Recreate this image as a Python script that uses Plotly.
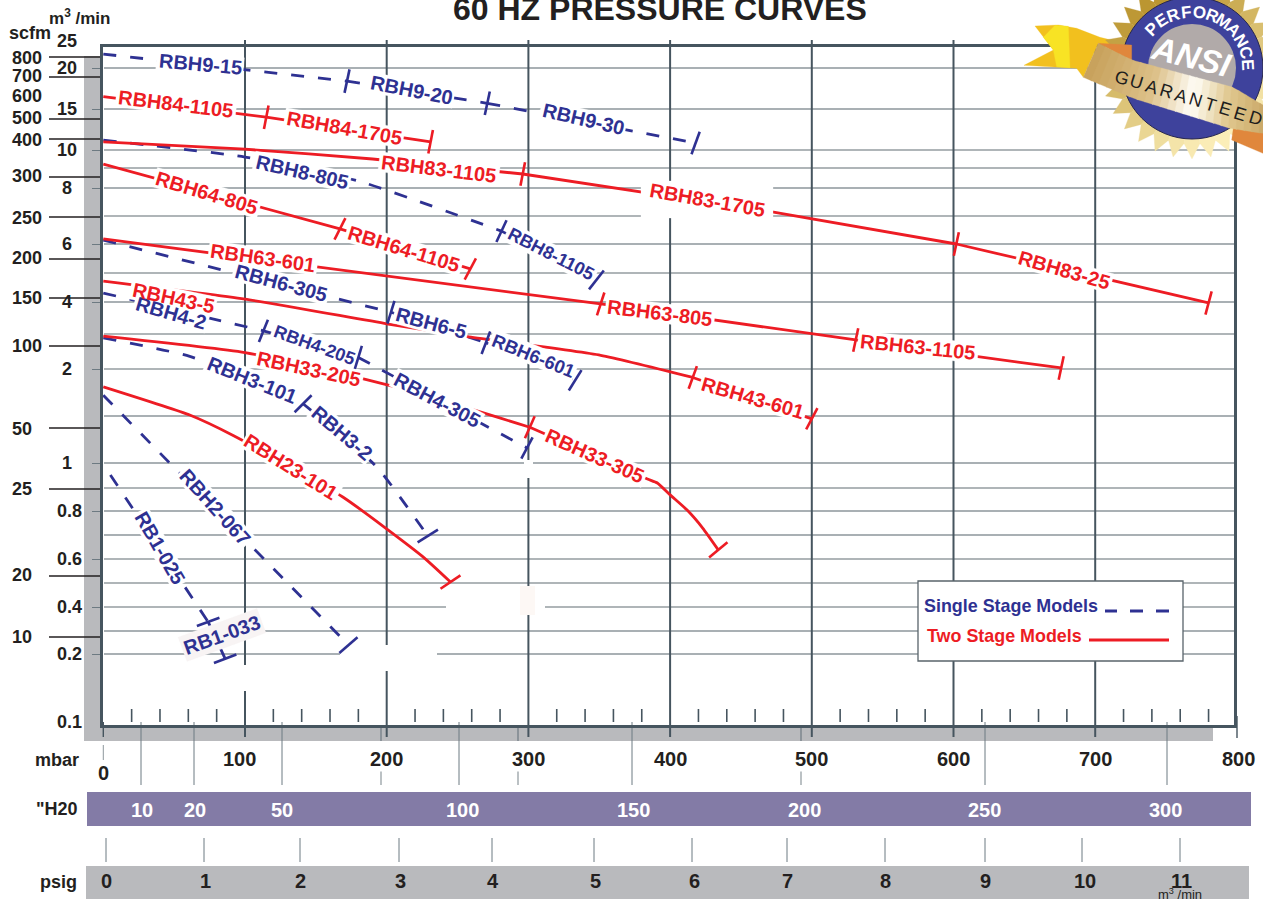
import math
import numpy as np
import plotly.graph_objects as go

# --- Chart values: pressure in mbar, flow in m3/min ---
RBH9_15_X, RBH9_15_Y = [0, 172], [22.9, 18.4]
RBH9_20_X, RBH9_20_Y = [172, 271], [18.4, 15.7]
RBH9_30_X, RBH9_30_Y = [271, 418], [15.7, 10.85]
RBH8_805_X, RBH8_805_Y = [0, 100, 180, 281], [11.2, 9.61, 8.35, 6.46]
RBH8_1105_X, RBH8_1105_Y = [281, 348], [6.46, 4.76]
RBH6_305_X, RBH6_305_Y = [0, 203], [6.14, 3.68]
RBH6_5_X, RBH6_5_Y = [203, 270], [3.68, 2.75]
RBH6_601_X, RBH6_601_Y = [270, 333], [2.75, 1.88]
RBH4_2_X, RBH4_2_Y = [0, 113], [4.31, 3.10]
RBH4_205_X, RBH4_205_Y = [113, 180], [3.10, 2.33]
RBH4_305_X, RBH4_305_Y = [180, 299], [2.33, 1.16]
RBH3_101_X, RBH3_101_Y = [0, 61, 141], [2.89, 2.36, 1.63]
RBH3_2_X, RBH3_2_Y = [141, 193, 229], [1.63, 0.984, 0.696]
RBH2_067_X, RBH2_067_Y = [0, 173], [1.72, 0.239]
RB1_025_X, RB1_025_Y = [5, 74], [0.952, 0.338]
RB1_033_X, RB1_033_Y = [74, 86], [0.338, 0.193]

RBH84_1105_X, RBH84_1105_Y = [0, 115], [16.5, 14.0]
RBH84_1705_X, RBH84_1705_Y = [115, 231], [14.0, 11.0]
RBH83_1105_X, RBH83_1105_Y = [0, 100, 190, 296], [11.0, 10.1, 9.5, 8.7]
RBH83_1705_X, RBH83_1705_Y = [296, 473, 602], [8.7, 7.14, 6.0]
RBH83_25_X, RBH83_25_Y = [602, 780], [6.0, 3.97]
RBH64_805_X, RBH64_805_Y = [0, 167], [9.22, 6.54]
RBH64_1105_X, RBH64_1105_Y = [167, 259], [6.54, 5.14]
RBH63_601_X, RBH63_601_Y = [0, 351], [6.18, 3.94]
RBH63_805_X, RBH63_805_Y = [351, 531], [3.94, 2.83]
RBH63_1105_X, RBH63_1105_Y = [531, 676], [2.83, 2.03]
RBH43_5_X, RBH43_5_Y = [0, 100, 200, 258, 351, 416], [4.72, 4.10, 3.32, 2.92, 2.39, 1.91]
RBH43_601_X, RBH43_601_Y = [416, 500], [1.91, 1.47]
RBH33_205_X, RBH33_205_Y = [0, 100, 185, 223, 301], [2.94, 2.47, 1.89, 1.74, 1.38]
RBH33_305_X = [301, 384, 391, 400, 412, 423, 434]
RBH33_305_Y = [1.38, 0.936, 0.92, 0.87, 0.804, 0.729, 0.638]
RBH23_101_X = [0, 61, 92, 169, 225, 245]
RBH23_101_Y = [1.81, 1.51, 1.29, 0.861, 0.612, 0.504]

# name, x, y, tilt of the end bar
SINGLE_STAGE = [
    ("RBH9-15", RBH9_15_X, RBH9_15_Y, 12), ("RBH9-20", RBH9_20_X, RBH9_20_Y, 12),
    ("RBH9-30", RBH9_30_X, RBH9_30_Y, 20), ("RBH8-805", RBH8_805_X, RBH8_805_Y, 25),
    ("RBH8-1105", RBH8_1105_X, RBH8_1105_Y, 38), ("RBH6-305", RBH6_305_X, RBH6_305_Y, 17),
    ("RBH6-5", RBH6_5_X, RBH6_5_Y, 21), ("RBH6-601", RBH6_601_X, RBH6_601_Y, 32),
    ("RBH4-2", RBH4_2_X, RBH4_2_Y, 22), ("RBH4-205", RBH4_205_X, RBH4_205_Y, 17),
    ("RBH4-305", RBH4_305_X, RBH4_305_Y, 28), ("RBH3-101", RBH3_101_X, RBH3_101_Y, 45),
    ("RBH3-2", RBH3_2_X, RBH3_2_Y, 58), ("RBH2-067", RBH2_067_X, RBH2_067_Y, 49),
    ("RB1-025", RB1_025_X, RB1_025_Y, 70), ("RB1-033", RB1_033_X, RB1_033_Y, 69),
]
TWO_STAGE = [
    ("RBH84-1105", RBH84_1105_X, RBH84_1105_Y, 11), ("RBH84-1705", RBH84_1705_X, RBH84_1705_Y, 11),
    ("RBH83-1105", RBH83_1105_X, RBH83_1105_Y, 11), ("RBH83-1705", RBH83_1705_X, RBH83_1705_Y, 12),
    ("RBH83-25", RBH83_25_X, RBH83_25_Y, 15), ("RBH64-805", RBH64_805_X, RBH64_805_Y, 27),
    ("RBH64-1105", RBH64_1105_X, RBH64_1105_Y, 28), ("RBH63-601", RBH63_601_X, RBH63_601_Y, 18),
    ("RBH63-805", RBH63_805_X, RBH63_805_Y, 12), ("RBH63-1105", RBH63_1105_X, RBH63_1105_Y, 12),
    ("RBH43-5", RBH43_5_X, RBH43_5_Y, 20), ("RBH43-601", RBH43_601_X, RBH43_601_Y, 28),
    ("RBH33-205", RBH33_205_X, RBH33_205_Y, 24), ("RBH33-305", RBH33_305_X, RBH33_305_Y, 50),
    ("RBH23-101", RBH23_101_X, RBH23_101_Y, 56),
]

# The printed flow scale is not regular, so it is kept as stops: value -> place on the axis
M3_STOPS = [0.1, 0.2, 0.3, 0.4, 0.5, 0.6, 0.7, 0.8, 0.9, 1, 1.5, 2, 3, 4, 5, 6, 7, 8, 9, 10, 15, 20, 25]
M3_PLACE = [722, 654, 631, 607, 583, 559, 535, 511, 488, 463, 416, 369, 334, 302, 273, 244, 216, 188, 168, 150, 109, 68, 44]
M3_LABELS = [25, 20, 15, 10, 8, 6, 4, 2, 1, 0.8, 0.6, 0.4, 0.2, 0.1]
M3_DARK = [20, 15, 8, 6, 4, 1.5, 1, 0.8, 0.7, 0.3, 0.2]
M3_GREY = [10, 9, 7, 5, 3, 2, 0.9, 0.6, 0.5, 0.4]

SCFM_LABELS = ["800", "700", "600", "500", "400", "300", "250", "200", "150", "100", "50", "25", "20", "10"]
SCFM_PLACE = [58, 76, 96, 118, 140, 176, 218, 258, 298, 346, 429, 489, 575, 637]
SCFM_TICKS = [57, 77, 119, 139, 177, 217, 259, 298, 346, 428, 489, 576, 637]

MBAR_GRID = [100, 200, 300, 400, 500, 600, 700]
MBAR_MINOR = [m for m in range(20, 800, 20) if m % 100]
MBAR_LABELS = [100, 200, 300, 400, 500, 600, 700, 800]

H2O_LABELS = ["10", "20", "50", "100", "150", "200", "250", "300"]
H2O_LABEL_PX = [142, 195, 282, 462, 633, 804, 984, 1165]
H2O_LONG_PX = [141, 194, 282, 459, 632, 985, 1167]
H2O_BROKEN_PX = [381, 518, 801]
PSIG_LABELS = ["0", "1", "2", "3", "4", "5", "6", "7", "8", "9", "10", "11"]
PSIG_LABEL_PX = [106, 205, 300, 400, 493, 595, 694, 787, 885, 985, 1085, 1181]
PSIG_TICK_PX = [106, 204, 300, 399, 492, 594, 692, 787, 885, 985, 1082, 1180]

BLUE, RED = "#2e3192", "#ed1c24"
INK, FRAME = "#231f20", "#46555f"
FONT = "Liberation Sans"
WIDTH, HEIGHT = 1263, 902
LEFT, RIGHT, TOP, BOTTOM = 103, 1234, 47, 725
PX_PER_MBAR = 1.417

# text, centre px x, centre px y, angle, size
CURVE_LABELS_BLUE = [
    ("RBH9-15", 200, 64, 5, 20), ("RBH9-20", 411, 90, 11, 20), ("RBH9-30", 583, 119, 13, 20),
    ("RBH8-805", 302, 172, 13, 20), ("RBH8-1105", 551, 254, 27, 18), ("RBH6-305", 281, 283, 15, 20),
    ("RBH6-5", 431, 323, 15, 20), ("RBH6-601", 533, 355, 22, 18.5), ("RBH4-2", 171, 313, 16, 20),
    ("RBH4-205", 314, 345, 20, 18), ("RBH4-305", 437, 400, 28, 20), ("RBH3-101", 252, 380, 22, 20),
    ("RBH3-2", 342, 433, 40, 20), ("RBH2-067", 215, 507, 48, 20), ("RB1-025", 160, 548, 60, 20),
    ("RB1-033", 222, 635, -20, 20),
]
CURVE_LABELS_RED = [
    ("RBH84-1105", 176, 104, 7, 20), ("RBH84-1705", 344, 128, 10, 20), ("RBH83-1105", 439, 169, 7, 20),
    ("RBH83-1705", 707, 200, 10, 20), ("RBH83-25", 1064, 270, 16, 20), ("RBH64-805", 207, 193, 17, 20),
    ("RBH64-1105", 404, 249, 17, 20), ("RBH63-601", 263, 258, 8, 20), ("RBH63-805", 660, 313, 7, 20),
    ("RBH63-1105", 918, 347, 6, 20), ("RBH43-5", 173, 298, 12, 20), ("RBH43-601", 753, 398, 16, 20),
    ("RBH33-205", 309, 369, 12, 20), ("RBH33-305", 595, 456, 24, 20), ("RBH23-101", 291, 467, 32, 20),
]
GLYPH_EM = {"R": 0.722, "B": 0.722, "H": 0.722, "-": 0.333}


def y_pos(m3):
    return float(np.interp(m3, M3_STOPS, M3_PLACE))


def fx(px):
    return (px - LEFT) / (RIGHT - LEFT)


def fy(py):
    return (BOTTOM - py) / (BOTTOM - TOP)


def mbar_at(px):
    return (px - 103.3) / PX_PER_MBAR


def text(fig, x, y, s, size, color=INK, bold=True, angle=0, bg=None, anchor="center"):
    fig.add_annotation(x=fx(x), y=fy(y), xref="paper", yref="paper", text=s, showarrow=False,
                       xanchor=anchor, yanchor="middle", textangle=angle, bgcolor=bg, borderpad=1,
                       font=dict(family=FONT, size=size, color=color, weight=700 if bold else 400))


def paper_rect(fig, x0, y0, x1, y1, color, layer="below", line=None):
    fig.add_shape(type="rect", xref="paper", yref="paper", x0=fx(x0), x1=fx(x1), y0=fy(y0), y1=fy(y1),
                  fillcolor=color, line=line or dict(width=0), layer=layer)


def paper_line(fig, x0, y0, x1, y1, color, width, layer="below"):
    fig.add_shape(type="line", xref="paper", yref="paper", x0=fx(x0), x1=fx(x1), y0=fy(y0), y1=fy(y1),
                  line=dict(color=color, width=width), layer=layer)


def polygon(fig, points, color):
    path = "M" + " L".join(f"{fx(x):.5f},{fy(y):.5f}" for x, y in points) + " Z"
    fig.add_shape(type="path", xref="paper", yref="paper", path=path, fillcolor=color,
                  line=dict(width=0.3, color=color), layer="above")


def label_patch(fig, s, x, y, angle, size, color="#ffffff", half_h=10):
    # rotated patch behind a curve name, sized from Arial Bold glyph widths
    half_w = sum(GLYPH_EM.get(ch, 0.556) for ch in s) * size / 2 + 2
    c, n = math.cos(math.radians(angle)), math.sin(math.radians(angle))
    corners = [(-half_w, -half_h), (half_w, -half_h), (half_w, half_h), (-half_w, half_h)]
    polygon(fig, [(x + u * c - v * n, y + u * n + v * c) for u, v in corners], color)


def end_bar(fig, mbar, m3, tilt, color):
    # short cross bar where a model's range ends; 12 px either side of the curve
    dx = 12 * math.sin(math.radians(tilt)) / PX_PER_MBAR
    dy = 12 * math.cos(math.radians(tilt))
    y = y_pos(m3)
    fig.add_shape(type="line", xref="x", yref="y", x0=mbar - dx, x1=mbar + dx, y0=y + dy, y1=y - dy,
                  line=dict(color=color, width=2.6), layer="above")


def blend(c0, c1, t):
    a = [int(c0[i:i + 2], 16) for i in (1, 3, 5)]
    b = [int(c1[i:i + 2], 16) for i in (1, 3, 5)]
    return "#" + "".join(f"{round(p + (q - p) * t):02x}" for p, q in zip(a, b))


def zoomed(x, y):
    # badge outline was measured on a 3x crop whose corner is (1000, 0)
    return 1000 + x / 3, y / 3


def edge(points, t):
    xs = [p[0] for p in points]
    ys = [p[1] for p in points]
    x = xs[0] + (xs[-1] - xs[0]) * t
    return zoomed(x, float(np.interp(x, xs, ys)))


def add_badge(fig):
    cx, cy = 1192, 68
    # tail of the ribbon
    polygon(fig, [zoomed(*p) for p in [(105, 78), (175, 75), (230, 85), (300, 112), (395, 135), (395, 182),
                                       (295, 130), (250, 232), (230, 205), (72, 196), (160, 150)]], "#f2c01e")
    polygon(fig, [zoomed(*p) for p in [(165, 76), (205, 79), (210, 203), (170, 200), (160, 150), (130, 112)]], "#f8e324")
    # gold star, one wedge per point so the colour can drift round it
    spikes = 30
    for i in range(spikes):
        a0 = 2 * math.pi * i / spikes
        a1 = 2 * math.pi * (i + 0.5) / spikes
        a2 = 2 * math.pi * (i + 1) / spikes
        t = (1 + math.cos(a1 - 1.1)) / 2
        color = blend("#bb9530", "#fbeeb8", t)
        polygon(fig, [(cx, cy), (cx + 76 * math.cos(a0), cy + 76 * math.sin(a0)),
                      (cx + 91 * math.cos(a1), cy + 91 * math.sin(a1)),
                      (cx + 76 * math.cos(a2), cy + 76 * math.sin(a2))], color)
    fig.add_shape(type="circle", xref="paper", yref="paper", x0=fx(cx - 71), x1=fx(cx + 71), y0=fy(cy + 71), y1=fy(cy - 71),
                  fillcolor="#3e429c", line=dict(color="#26264f", width=1), layer="above")
    fig.add_shape(type="circle", xref="paper", yref="paper", x0=fx(cx - 44), x1=fx(cx + 44), y0=fy(cy + 44), y1=fy(cy - 44),
                  fillcolor="#b1aaa9", line=dict(width=0), layer="above")
    # folds and band of the ribbon
    polygon(fig, [zoomed(*p) for p in [(295, 130), (395, 135), (395, 182)]], "#e0873c")
    polygon(fig, [zoomed(*p) for p in [(700, 385), (695, 420), (789, 460), (789, 395)]], "#e0873c")
    top = [(295, 130), (395, 180), (700, 262), (800, 322)]
    low = [(250, 232), (400, 295), (690, 385), (800, 402)]
    stops_t = [0, 0.35, 0.58, 0.78, 1]
    stops_c = ["#c7a05a", "#dcc088", "#fffdf6", "#e0c88f", "#c9a766"]
    strips = 24
    for i in range(strips):
        t0, t1 = i / strips, (i + 1) / strips
        mid = (t0 + t1) / 2
        k = min(int(np.searchsorted(stops_t, mid, side="right")) - 1, 3)
        color = blend(stops_c[k], stops_c[k + 1], (mid - stops_t[k]) / (stops_t[k + 1] - stops_t[k]))
        polygon(fig, [edge(top, t0), edge(top, t1 + 0.005), edge(low, t1 + 0.005), edge(low, t0)], color)

    text(fig, 1191, 57, "<i>ANSI</i>", 33, "#ffffff", angle=14)
    for i, ch in enumerate("PERFORMANCE"):
        a = -46 + i * 13.3
        text(fig, cx + 56 * math.sin(math.radians(a)), cy - 56 * math.cos(math.radians(a)), ch, 17, "#ffffff", angle=a)
    for i, ch in enumerate("GUARANTEED"):
        t = i / 9
        text(fig, 1122 + 133 * t, 77.5 + 41 * t, ch, 18, "#1d1d1d", bold=False, angle=17)


fig = go.Figure()

# --- Bands and strips behind the chart ---
paper_rect(fig, 84, 56, 103, 741, "#b9babd")
paper_rect(fig, 84, 725, 1213, 741, "#b9babd")
paper_rect(fig, 87, 792, 1251, 826, "#837ba6")
paper_rect(fig, 86, 866, 1249, 899, "#b9babd")

# --- Grid ---
for m3 in M3_DARK + M3_GREY:
    dark = m3 in M3_DARK
    fig.add_shape(type="line", xref="paper", yref="y", x0=fx(104), x1=1, y0=y_pos(m3), y1=y_pos(m3), layer="below",
                  line=dict(color="#54626b" if dark else "#949ca1", width=1.2 if dark else 1.6))
for m in MBAR_GRID:
    fig.add_shape(type="line", xref="x", yref="paper", x0=m, x1=m, y0=fy(737), y1=fy(40), layer="below",
                  line=dict(color=FRAME, width=2))
for m in MBAR_MINOR:
    fig.add_shape(type="line", xref="x", yref="paper", x0=m, x1=m, y0=fy(722), y1=fy(709), layer="below",
                  line=dict(color=FRAME, width=1.6))
for x, y0, y1 in [(103.3, 722, 737), (1237, 716, 738)]:
    paper_line(fig, x, y0, x, y1, FRAME, 1.4, "above")

# white cover-ups sitting on the grid in the original
for x0, x1, y0, y1, color in [(340, 437, 645, 671, "#ffffff"), (240, 250, 665, 691, "#ffffff"),
                              (446, 545, 586, 615, "#ffffff"), (520, 535, 586, 615, "#fdf8f5"),
                              (524, 533, 460, 478, "#ffffff")]:
    fig.add_shape(type="rect", xref="x", yref="y", x0=mbar_at(x0), x1=mbar_at(x1), y0=y0, y1=y1,
                  fillcolor=color, line=dict(width=0), layer="below")

# --- Scale lines under the plot ---
for x in H2O_LONG_PX:
    paper_line(fig, x, 722, x, 785, "#6d7a82", 1)
for x in H2O_BROKEN_PX:
    paper_line(fig, x, 727, x, 741, "#6d7a82", 1.2)
    paper_line(fig, x, 771, x, 785, "#8e989d", 1.2)
paper_line(fig, 103.3, 745, 103.3, 760, "#8e989d", 1)
for x in PSIG_TICK_PX:
    paper_line(fig, x, 838, x, 862, "#6d7a82", 1)
for y in SCFM_TICKS:
    paper_line(fig, 49, y, 100, y, INK, 1.5)

# --- Curves ---
for group, color, dash in [(SINGLE_STAGE, BLUE, "13px,14px"), (TWO_STAGE, RED, "solid")]:
    for name, xs, ys, tilt in group:
        fig.add_trace(go.Scatter(x=xs, y=[y_pos(v) for v in ys], mode="lines", name=name, showlegend=False,
                                 line=dict(color=color, width=2.8, dash=dash, shape="spline", smoothing=0.5),
                                 hoverinfo="name"))

# --- Curve names, each on its own patch; patches go first so no name is hidden by a neighbour ---
polygon(fig, [(641, 181), (773, 181), (773, 218), (641, 218)], "#ffffff")
for s, x, y, angle, size in CURVE_LABELS_BLUE + CURVE_LABELS_RED:
    if s == "RB1-033":
        label_patch(fig, s, x, y, angle, size, "#f8f4f4", 13)
    else:
        label_patch(fig, s, x, y, angle, size)
for group, color in [(SINGLE_STAGE, BLUE), (TWO_STAGE, RED)]:
    for name, xs, ys, tilt in group:
        end_bar(fig, xs[-1], ys[-1], tilt, color)
for labels, color in [(CURVE_LABELS_BLUE, BLUE), (CURVE_LABELS_RED, RED)]:
    for s, x, y, angle, size in labels:
        text(fig, x, y, s, size, color, angle=angle)

# --- Axis texts ---
text(fig, 660, 9, "60 HZ PRESSURE CURVES", 32)
text(fig, 79, 17, "m<sup>3</sup> /min", 17)
text(fig, 30, 33, "scfm", 18)
for s, y in zip(SCFM_LABELS, SCFM_PLACE):
    text(fig, 27 if len(s) == 3 else 22, y, s, 18)
for v in M3_LABELS:
    text(fig, 69 if v < 1 else 67, y_pos(v) + (-3 if v == 25 else 0), f"{v}", 18)
text(fig, 57, 760, "mbar", 18)
text(fig, 103, 773, "0", 20)
for m in MBAR_LABELS:
    shift = {100: -6, 800: 2}.get(m, 0)
    text(fig, 103.3 + m * PX_PER_MBAR + shift, 759, str(m), 20, bg="#ffffff")
text(fig, 57, 809, '"H20', 18)
for s, x in zip(H2O_LABELS, H2O_LABEL_PX):
    text(fig, x, 810, s, 20, "#ffffff")
text(fig, 58, 882, "psig", 18)
for s, x in zip(PSIG_LABELS, PSIG_LABEL_PX):
    text(fig, x, 881, s, 20)
text(fig, 1180, 894, "m<sup>3</sup> /min", 13, bold=False)

# --- Legend box, drawn by hand: the line sits to the right of the words ---
paper_rect(fig, 918, 581, 1183, 661, "#ffffff", "above", dict(color="#59646b", width=1.3))
text(fig, 922, 606, "Single Stage Models", 17.9, BLUE, anchor="left")
text(fig, 925, 636, "Two Stage Models", 17.9, RED, anchor="left")
for x0, x1 in [(1105, 1117), (1130, 1143), (1156, 1169)]:
    paper_line(fig, x0, 611, x1, 611, BLUE, 3, "above")
paper_line(fig, 1089, 640, 1169, 640, RED, 3, "above")

add_badge(fig)

fig.update_layout(
    width=WIDTH, height=HEIGHT, autosize=False, showlegend=False,
    margin=dict(l=LEFT, r=WIDTH - RIGHT, t=TOP, b=HEIGHT - BOTTOM, pad=0),
    paper_bgcolor="#ffffff", plot_bgcolor="rgba(0,0,0,0)",
    xaxis=dict(range=[mbar_at(LEFT), mbar_at(RIGHT)], showgrid=False, zeroline=False, showticklabels=False, ticks="",
               showline=True, mirror=True, linewidth=2.8, linecolor=FRAME),
    yaxis=dict(range=[BOTTOM, TOP], showgrid=False, zeroline=False, showticklabels=False,
               ticks="outside", ticklen=8, tickwidth=1.3, tickcolor="#6d7a82",
               tickmode="array", tickvals=[y_pos(v) for v in M3_LABELS if v < 25 and v > 0.1],
               showline=True, mirror=True, linewidth=2.8, linecolor=FRAME),
)

fig.write_html("out.html", config=dict(displayModeBar=False), post_script="document.body.style.margin='0';")
